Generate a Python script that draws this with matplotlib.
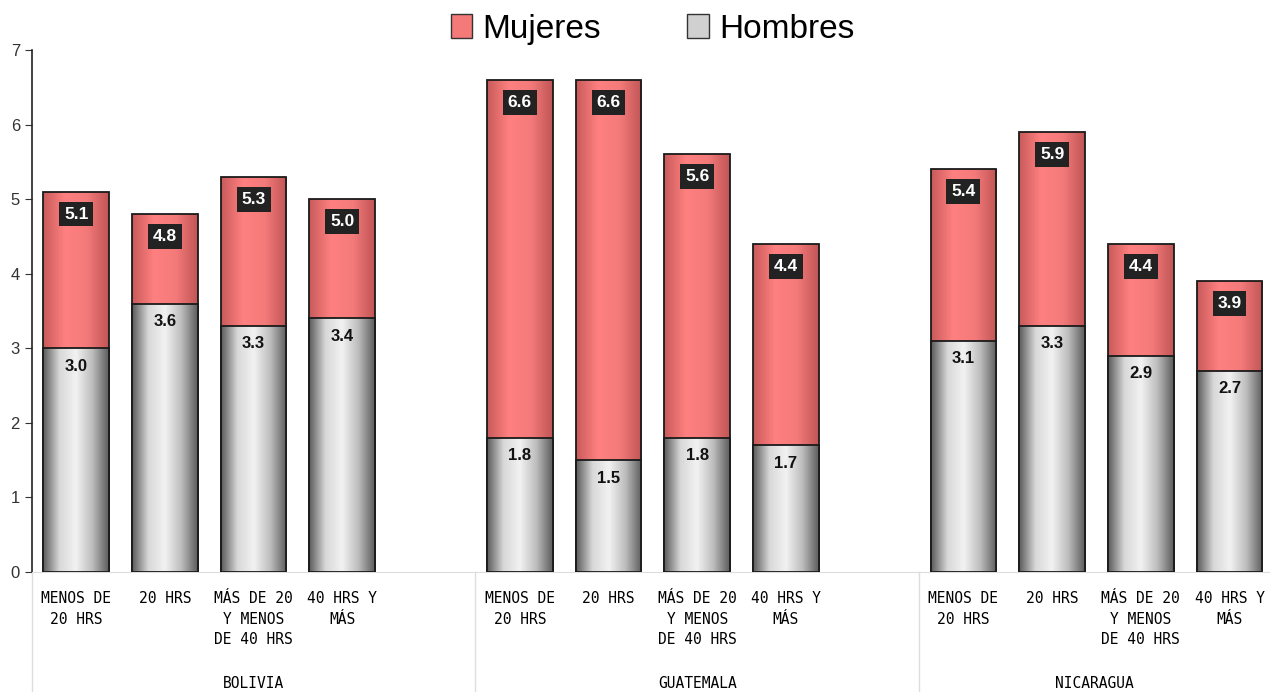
import numpy as np
import matplotlib.pyplot as plt
from matplotlib.colors import LinearSegmentedColormap
from matplotlib.patches import Patch

countries = ['BOLIVIA', 'GUATEMALA', 'NICARAGUA']
categories = ['MENOS DE\n20 HRS', '20 HRS', 'MÁS DE 20\nY MENOS\nDE 40 HRS', '40 HRS Y\nMÁS']
mujeres = [5.1, 4.8, 5.3, 5.0,
           6.6, 6.6, 5.6, 4.4,
           5.4, 5.9, 4.4, 3.9]
hombres = [3.0, 3.6, 3.3, 3.4,
           1.8, 1.5, 1.8, 1.7,
           3.1, 3.3, 2.9, 2.7]

n_cat = len(categories)
slot = n_cat + 1
xpos = [g * slot + i + 0.5 for g in range(len(countries)) for i in range(n_cat)]
xmax = 13.95

red_cmap = LinearSegmentedColormap.from_list('r', ['#c85a5a', '#ff8080', '#f47a7a', '#c05555'])
grey_cmap = LinearSegmentedColormap.from_list('g', ['#5a5a5a', '#d8d8d8', '#f2f2f2', '#bdbdbd', '#5c5c5c'])

fig = plt.figure(figsize=(12.72, 6.92), dpi=100)
ax = fig.add_axes([0.025, 0.1734, 0.973, 0.7543])

grad = np.linspace(0, 1, 256).reshape(1, -1)


def fancy_bars(vals, cmap, z):
    bars = ax.bar(xpos, vals, width=0.74, facecolor='none', edgecolor='#1a1a1a',
                  linewidth=1.3, zorder=z + 1)
    for r in bars:
        x0, y0 = r.get_x(), r.get_y()
        im = ax.imshow(grad, extent=[x0, x0 + r.get_width(), y0, y0 + r.get_height()],
                       aspect='auto', cmap=cmap, zorder=z, interpolation='bicubic')
        bg = plt.Rectangle((x0, y0), r.get_width(), r.get_height(), transform=ax.transData)
        im.set_clip_path(bg)
    return bars


fancy_bars(mujeres, red_cmap, 2)
fancy_bars(hombres, grey_cmap, 4)

for x, m, h in zip(xpos, mujeres, hombres):
    ax.text(x, m - 0.3, f'{m:.1f}', ha='center', va='center', color='white',
            fontsize=12.5, fontweight='bold', family='Liberation Sans', zorder=10,
            bbox=dict(boxstyle='square,pad=0.28', facecolor='#222222', edgecolor='none'))
    ax.text(x, h - 0.24, f'{h:.1f}', ha='center', va='center', color='#111111',
            fontsize=12, fontweight='bold', family='Liberation Sans', zorder=10)

ax.set_xlim(0, xmax)
ax.set_ylim(0, 7)
ax.set_yticks(range(0, 8))
ax.tick_params(axis='y', labelsize=12, length=5, colors='#333333')
for lbl in ax.get_yticklabels():
    lbl.set_family('Liberation Sans')
ax.set_xticks(xpos)
ax.set_xticklabels(categories * len(countries), family='DejaVu Sans Mono',
                   fontsize=10.5, linespacing=1.45)
ax.tick_params(axis='x', length=0, pad=14)

for s in ['top', 'right']:
    ax.spines[s].set_visible(False)
ax.spines['bottom'].set_color('#dddddd')
ax.spines['left'].set_color('#222222')
ax.spines['left'].set_linewidth(1.2)

# group separators and names below the axis
trans = ax.get_xaxis_transform()
for g, name in enumerate(countries):
    left = g * slot
    right = min(left + slot, xmax)
    ax.plot([left, left], [0, -0.24], transform=trans, color='#dddddd',
            lw=1, clip_on=False)
    ax.text((left + right) / 2, -0.213, name, transform=trans, ha='center',
            va='center', family='DejaVu Sans Mono', fontsize=10.5)

handles = [Patch(facecolor='#f47a7a', edgecolor='#333333', label='Mujeres'),
           Patch(facecolor='#d0d0d0', edgecolor='#333333', label='Hombres')]
fig.legend(handles=handles, loc='center', bbox_to_anchor=(0.513, 0.958), ncol=2,
           frameon=False, prop={'family': 'Liberation Sans', 'size': 24},
           handlelength=0.65, handleheight=0.75, handletextpad=0.3, columnspacing=2.6)

fig.savefig('out.png', dpi=100)
